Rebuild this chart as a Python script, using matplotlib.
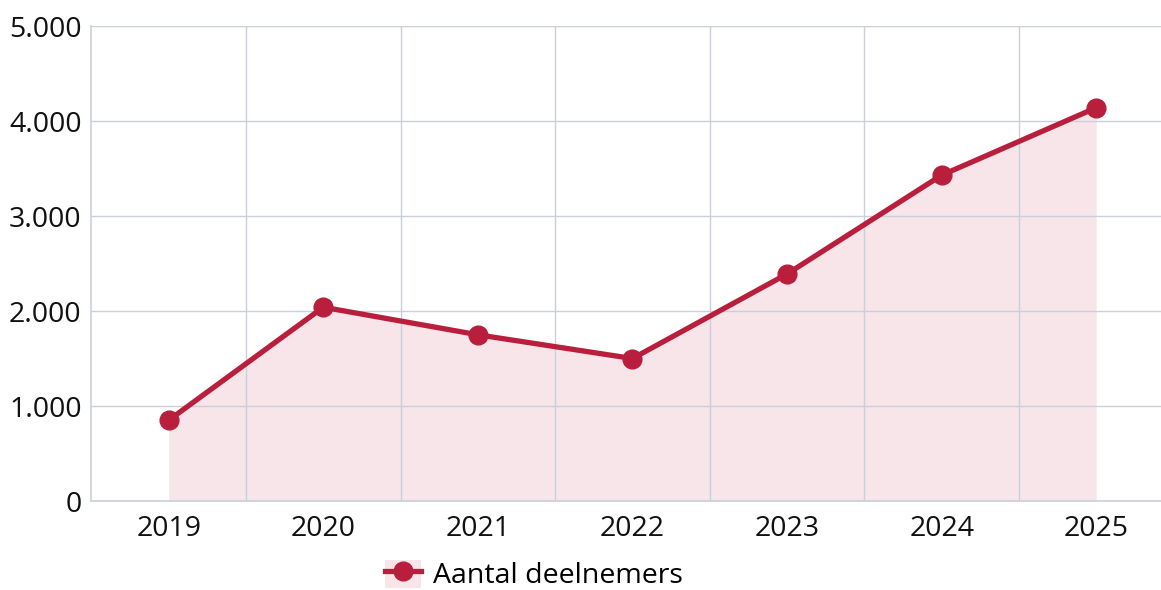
import matplotlib.pyplot as plt
from matplotlib.patches import Patch
from matplotlib.lines import Line2D
from matplotlib.ticker import FuncFormatter

years = ["2019", "2020", "2021", "2022", "2023", "2024", "2025"]
deelnemers = [850, 2040, 1750, 1500, 2390, 3430, 4140]
y_ticks = [0, 1000, 2000, 3000, 4000, 5000]

red = "#b91e3c"
pink = "#f7e5ea"
grid = "#c9d0da"

plt.rcParams["font.family"] = ["Open Sans", "DejaVu Sans"]

fig = plt.figure(figsize=(11.61, 5.90), dpi=100)
ax = fig.add_axes([0.0787, 0.1508, 0.9213, 0.8051])

x = list(range(len(years)))
ax.fill_between(x, deelnemers, 0, color=pink, lw=0, zorder=1)
ax.plot(x, deelnemers, color=red, lw=3.8, marker="o", ms=13.5,
        solid_capstyle="round", zorder=3)

ax.set_xlim(-0.5, 6.419)
ax.set_ylim(0, 5000)
ax.set_xticks(x)
ax.set_xticklabels(years)
ax.set_yticks(y_ticks)
ax.yaxis.set_major_formatter(FuncFormatter(lambda v, p: f"{int(v):,}".replace(",", ".")))
ax.set_xticks([i + 0.5 for i in range(len(years) - 1)], minor=True)

ax.grid(axis="y", which="major", color=grid, lw=1, zorder=0)
ax.grid(axis="x", which="minor", color=grid, lw=1, zorder=2)
ax.grid(axis="x", which="major", visible=False)
ax.tick_params(which="both", length=0, labelsize=20.5, colors="#111111")
ax.tick_params(axis="x", pad=10)
ax.tick_params(axis="y", pad=7)

for s in ["top", "right"]:
    ax.spines[s].set_visible(False)
for s in ["left", "bottom"]:
    ax.spines[s].set_color(grid)
    ax.spines[s].set_linewidth(1.2)

handle = (Patch(facecolor=pink, edgecolor="none"),
          Line2D([], [], color=red, lw=3.8, marker="o", ms=13.5))
fig.legend([handle], ["Aantal deelnemers"], loc="center left",
           bbox_to_anchor=(385 / 1161, 1 - 575 / 590), frameon=False,
           fontsize=20.5, handlelength=1.26, handleheight=1.15,
           handletextpad=0.43, borderpad=0, borderaxespad=0)

fig.savefig("out.png", dpi=100)
